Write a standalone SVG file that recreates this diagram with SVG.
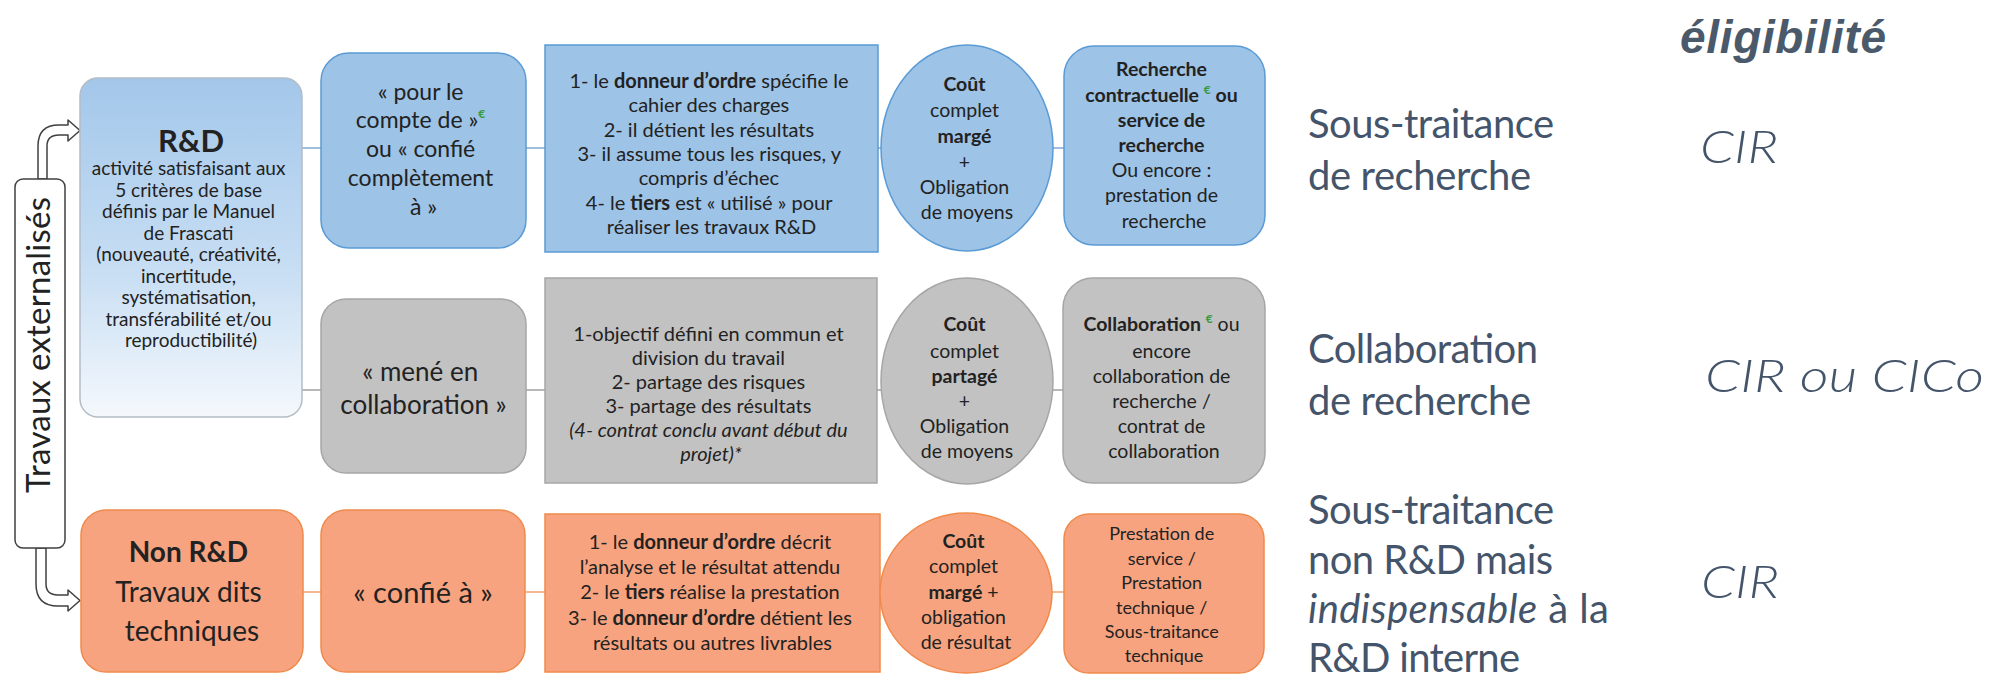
<svg xmlns="http://www.w3.org/2000/svg" width="1997" height="682" viewBox="0 0 1997 682">
<defs>
<linearGradient id="gRD" x1="0" y1="0" x2="0" y2="1">
<stop offset="0" stop-color="#a3c7ea"/>
<stop offset="0.55" stop-color="#c6ddf3"/>
<stop offset="1" stop-color="#f4f8fc"/>
</linearGradient>
</defs>
<style>
.t{font-family:Lato,"Liberation Sans",sans-serif;fill:#222;text-anchor:middle}
.b{font-weight:bold}
.i{font-style:italic}
.eur{fill:#3a9a3a;font-weight:bold;font-size:12px}
.blue{fill:#9dc3e6;stroke:#5b9bd5;stroke-width:1.5}
.gray{fill:#c2c2c2;stroke:#a6a6a6;stroke-width:1.5}
.orange{fill:#f7a37f;stroke:#f08a4b;stroke-width:1.5}
.lab{font-family:Lato,"Liberation Sans",sans-serif;fill:#44546a;font-size:40px}
.elig{font-family:"Liberation Sans",sans-serif;fill:#4a5a6b;font-size:46px;font-weight:bold;font-style:italic}
.cir{font-family:Lato,"Liberation Sans",sans-serif;fill:#44546a;font-size:46px;font-style:italic;font-weight:300}
.cb{stroke:#7fa9d6;stroke-width:1.5}
.cg{stroke:#a0a0a0;stroke-width:1.5}
.co{stroke:#f4a070;stroke-width:1.5}
.arr{fill:#fff;stroke:#404040;stroke-width:1.5;stroke-linejoin:round}
</style>
<rect width="1997" height="682" fill="#fff"/>

<g id="connectors">
<line class="cb" x1="302" y1="148" x2="321" y2="148"/>
<line class="cb" x1="526" y1="148" x2="545" y2="148"/>
<line class="cb" x1="878" y1="148" x2="881" y2="148"/>
<line class="cb" x1="1053" y1="148" x2="1064" y2="148"/>
<line class="cg" x1="302" y1="390" x2="321" y2="390"/>
<line class="cg" x1="526" y1="390" x2="545" y2="390"/>
<line class="cg" x1="877" y1="390" x2="881" y2="390"/>
<line class="cg" x1="1053" y1="390" x2="1063" y2="390"/>
<line class="co" x1="303" y1="592" x2="321" y2="592"/>
<line class="co" x1="525" y1="592" x2="545" y2="592"/>
<line class="co" x1="880" y1="592" x2="881" y2="592"/>
<line class="co" x1="1052" y1="592" x2="1064" y2="592"/>
<path class="arr" d="M38,179 L38,146 Q38,125 59,125 L68,125 L68,120 L80,130.5 L68,141 L68,135 L59,135 Q47,135 47,146 L47,179 Z"/>
<path class="arr" d="M36,548 L36,584 Q36,606 58,606 L68,606 L68,611 L80,600.5 L68,590 L68,595 L58,595 Q46,595 46,584 L46,548 Z"/>
</g>

<g id="travaux">
<rect x="15" y="179" width="50" height="369" rx="8" fill="#fff" stroke="#404040" stroke-width="1.5"/>
<text class="t" font-size="33" transform="translate(50,345) rotate(-90)" textLength="296">Travaux  externalisés</text>
</g>

<g id="rd">
<rect x="80" y="78" width="222" height="339" rx="18" fill="url(#gRD)" stroke="#b4bcc6" stroke-width="1.5"/>
<text class="t b" x="191" y="152" font-size="31">R&amp;D</text>
<text class="t" font-size="19">
<tspan x="191" y="175">activité satisfaisant aux</tspan>
<tspan x="191" y="196.5">5 critères de base</tspan>
<tspan x="191" y="218">définis par le Manuel</tspan>
<tspan x="191" y="239.5">de Frascati</tspan>
<tspan x="191" y="261">(nouveauté, créativité,</tspan>
<tspan x="191" y="282.5">incertitude,</tspan>
<tspan x="191" y="304">systématisation,</tspan>
<tspan x="191" y="325.5">transférabilité et/ou</tspan>
<tspan x="191" y="347">reproductibilité)</tspan>
</text>
</g>

<g id="pour">
<rect class="blue" x="321" y="53" width="205" height="195" rx="28"/>
<text class="t" font-size="23">
<tspan x="423.5" y="100">« pour le</tspan>
<tspan x="423.5" y="128">compte de »<tspan class="eur" dy="-10">€</tspan></tspan>
<tspan x="423.5" y="157">ou « confié</tspan>
<tspan x="423.5" y="186">complètement</tspan>
<tspan x="423.5" y="215">à »</tspan>
</text>
</g>

<g id="cond1">
<rect class="blue" x="545" y="45" width="333" height="207"/>
<text class="t" font-size="20">
<tspan x="711.5" y="88">1- le <tspan class="b">donneur d’ordre</tspan> spécifie le</tspan>
<tspan x="711.5" y="112">cahier des charges</tspan>
<tspan x="711.5" y="137">2- il détient les résultats</tspan>
<tspan x="711.5" y="161">3- il assume tous les risques, y</tspan>
<tspan x="711.5" y="185">compris d’échec</tspan>
<tspan x="711.5" y="210">4- le <tspan class="b">tiers</tspan> est « utilisé » pour</tspan>
<tspan x="711.5" y="234">réaliser les travaux R&amp;D</tspan>
</text>
</g>

<g id="cout1">
<ellipse class="blue" cx="967" cy="148" rx="86" ry="103"/>
<text class="t" font-size="19.5">
<tspan x="967" y="91" class="b">Coût</tspan>
<tspan x="967" y="117">complet</tspan>
<tspan x="967" y="143" class="b">margé</tspan>
<tspan x="967" y="169">+</tspan>
<tspan x="967" y="194">Obligation</tspan>
<tspan x="967" y="219">de moyens</tspan>
</text>
</g>

<g id="type1">
<rect class="blue" x="1064" y="46" width="201" height="199" rx="30"/>
<text class="t" font-size="19.5">
<tspan x="1164" y="76" class="b">Recherche</tspan>
<tspan x="1164" y="102" class="b">contractuelle <tspan class="eur" dy="-8">€</tspan><tspan dy="8"> ou</tspan></tspan>
<tspan x="1164" y="127" class="b">service de</tspan>
<tspan x="1164" y="152" class="b">recherche</tspan>
<tspan x="1164" y="177">Ou encore :</tspan>
<tspan x="1164" y="202">prestation de</tspan>
<tspan x="1164" y="228">recherche</tspan>
</text>
</g>

<g id="mene">
<rect class="gray" x="321" y="299" width="205" height="174" rx="25"/>
<text class="t" font-size="26">
<tspan x="423.5" y="381">« mené en</tspan>
<tspan x="423.5" y="414">collaboration »</tspan>
</text>
</g>

<g id="cond2">
<rect class="gray" x="545" y="278" width="332" height="205"/>
<text class="t" font-size="20">
<tspan x="711" y="341">1-objectif défini en commun et</tspan>
<tspan x="711" y="365">division du travail</tspan>
<tspan x="711" y="389">2- partage des risques</tspan>
<tspan x="711" y="413">3- partage des résultats</tspan>
<tspan x="711" y="437" class="i">(4- contrat conclu avant début du</tspan>
<tspan x="711" y="461" class="i">projet)*</tspan>
</text>
</g>

<g id="cout2">
<ellipse class="gray" cx="967" cy="381" rx="86" ry="103"/>
<text class="t" font-size="19.5">
<tspan x="967" y="331" class="b">Coût</tspan>
<tspan x="967" y="358">complet</tspan>
<tspan x="967" y="383" class="b">partagé</tspan>
<tspan x="967" y="408">+</tspan>
<tspan x="967" y="433">Obligation</tspan>
<tspan x="967" y="458">de moyens</tspan>
</text>
</g>

<g id="type2">
<rect class="gray" x="1063" y="278" width="202" height="205" rx="30"/>
<text class="t" font-size="19.5">
<tspan x="1164" y="331"><tspan class="b">Collaboration </tspan><tspan class="eur" dy="-8">€</tspan><tspan dy="8"> ou</tspan></tspan>
<tspan x="1164" y="358">encore</tspan>
<tspan x="1164" y="383">collaboration de</tspan>
<tspan x="1164" y="408">recherche  /</tspan>
<tspan x="1164" y="433">contrat de</tspan>
<tspan x="1164" y="458">collaboration</tspan>
</text>
</g>

<g id="nonrd">
<rect class="orange" x="81" y="510" width="222" height="162" rx="25"/>
<text class="t" font-size="28">
<tspan x="192" y="562" class="b">Non R&amp;D</tspan>
<tspan x="192" y="602">Travaux dits</tspan>
<tspan x="192" y="641">techniques</tspan>
</text>
</g>

<g id="confie">
<rect class="orange" x="321" y="510" width="204" height="162" rx="25"/>
<text class="t" font-size="29" x="423" y="603">« confié à »</text>
</g>

<g id="cond3">
<rect class="orange" x="545" y="514" width="335" height="158"/>
<text class="t" font-size="20">
<tspan x="712.5" y="549">1- le <tspan class="b">donneur d’ordre</tspan> décrit</tspan>
<tspan x="712.5" y="574">l’analyse et le résultat attendu</tspan>
<tspan x="712.5" y="599">2- le <tspan class="b">tiers</tspan> réalise la prestation</tspan>
<tspan x="712.5" y="625">3- le <tspan class="b">donneur d’ordre</tspan> détient les</tspan>
<tspan x="712.5" y="650">résultats ou autres livrables</tspan>
</text>
</g>

<g id="cout3">
<ellipse class="orange" cx="966" cy="593" rx="86" ry="80"/>
<text class="t" font-size="19.5">
<tspan x="966" y="548" class="b">Coût</tspan>
<tspan x="966" y="573">complet</tspan>
<tspan x="966" y="599"><tspan class="b">margé</tspan> +</tspan>
<tspan x="966" y="624">obligation</tspan>
<tspan x="966" y="649">de résultat</tspan>
</text>
</g>

<g id="type3">
<rect class="orange" x="1064" y="514" width="200" height="159" rx="25"/>
<text class="t" font-size="18">
<tspan x="1164" y="540">Prestation de</tspan>
<tspan x="1164" y="564.5">service /</tspan>
<tspan x="1164" y="589">Prestation</tspan>
<tspan x="1164" y="613.5">technique /</tspan>
<tspan x="1164" y="638">Sous-traitance</tspan>
<tspan x="1164" y="662">technique</tspan>
</text>
</g>

<g id="labels">
<text class="elig" x="1680" y="53" textLength="206">éligibilité</text>
<text class="lab" x="1308" y="138" textLength="246">Sous-traitance</text>
<text class="lab" x="1308" y="190" textLength="223">de recherche</text>
<text class="cir" x="1700" y="163" textLength="78" lengthAdjust="spacingAndGlyphs">CIR</text>
<text class="lab" x="1308" y="363" textLength="230">Collaboration</text>
<text class="lab" x="1308" y="415" textLength="223">de recherche</text>
<text class="cir" x="1705" y="392" textLength="279" lengthAdjust="spacingAndGlyphs">CIR ou CICo</text>
<text class="lab" x="1308" y="524" textLength="246">Sous-traitance</text>
<text class="lab" x="1308" y="573.5" textLength="245">non R&amp;D mais</text>
<text class="lab" x="1308" y="623" textLength="301"><tspan class="i">indispensable</tspan> à la</text>
<text class="lab" x="1308" y="672" textLength="212">R&amp;D interne</text>
<text class="cir" x="1701" y="598" textLength="78" lengthAdjust="spacingAndGlyphs">CIR</text>
</g>
</svg>
